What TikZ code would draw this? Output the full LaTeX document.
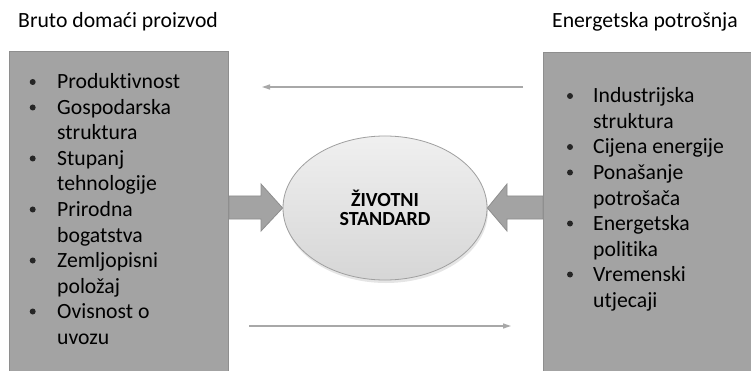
\documentclass[tikz,border=0pt]{standalone}
\usepackage{fontspec}
\setmainfont{Carlito}[Ligatures=NoCommon]
\usetikzlibrary{shapes.geometric,arrows.meta,shadows}
\definecolor{boxgray}{HTML}{A3A3A3}
\definecolor{boxedge}{HTML}{8E8E8E}
\definecolor{thingray}{HTML}{A8A8A8}
\tikzset{
  listtext/.style={anchor=base west,inner sep=0pt,font=\fontsize{21.7}{25}\selectfont},
  oznaka/.style={circle,fill=black!85,inner sep=0pt,minimum size=6pt},
  faktor/.style={draw=boxedge,fill=boxgray,line width=1pt,anchor=north west,inner sep=0pt},
  blok/.style={draw=boxedge,fill=boxgray,line width=0.8pt},
  tanka/.style={draw=thingray,line width=1.2pt}
}
\begin{document}
\begin{tikzpicture}[x=1pt,y=-1pt,>={Triangle[length=8pt,width=5pt]}]
  \useasboundingbox (0,0) rectangle (751,371);
  \fill[white] (0,0) rectangle (751,371);
  % naslovi
  \node[listtext] (tbdp) at (18,28) {Bruto domaći proizvod};
  \node[listtext] (tep) at (552,28) {Energetska potrošnja};
  % pravokutnici
  \node[faktor,minimum width=219pt,minimum height=330pt] (lbox) at (9,51) {};
  \node[faktor,minimum width=220pt,minimum height=330pt] (rbox) at (543,52) {};
  % elipsa
  \node[ellipse,draw=gray!75,line width=0.8pt,top color=gray!12,bottom color=gray!32,
        drop shadow={opacity=0.2,shadow xshift=1pt,shadow yshift=-3pt},
        minimum width=204pt,minimum height=144pt,align=center,
        font=\bfseries\fontsize{20}{18.5}\selectfont] (zs) at (385,208) {ŽIVOTNI\\STANDARD};
  % debele strelice
  \draw[blok] (lbox.east |- 0,196) -- (261,196) -- (261,184) -- (zs.west)
        -- (261,231) -- (261,219) -- (lbox.east |- 0,219) -- cycle;
  \draw[blok] (rbox.west |- 0,196) -- (507,196) -- (507,184) -- (zs.east)
        -- (507,231) -- (507,219) -- (rbox.west |- 0,219) -- cycle;
  % tanke strelice
  \coordinate (g1) at (523,87);
  \coordinate (g2) at (262,87);
  \coordinate (d1) at (249,326);
  \coordinate (d2) at (511,326);
  \draw[tanka,->] (g1) -- (g2);
  \draw[tanka,->] (d1) -- (d2);
  % lijevi popis
  \foreach \t [count=\i from 0] in {Produktivnost,Gospodarska,struktura,Stupanj,tehnologije,Prirodna,bogatstva,Zemljopisni,položaj,Ovisnost o,uvozu}
    \node[listtext] (l\i) at (57,{89+25.5*\i}) {\t};
  \foreach \i in {0,1,3,5,7,9}
    \node[oznaka] (lb\i) at (32.7,{82+25.5*\i}) {};
  % desni popis
  \foreach \t [count=\i from 0] in {Industrijska,struktura,Cijena energije,Ponašanje,potrošača,Energetska,politika,Vremenski,utjecaji}
    \node[listtext] (r\i) at (593,{103+25.5*\i}) {\t};
  \foreach \i in {0,2,3,5,7}
    \node[oznaka] (rb\i) at (570,{96+25.5*\i}) {};
\end{tikzpicture}
\end{document}
